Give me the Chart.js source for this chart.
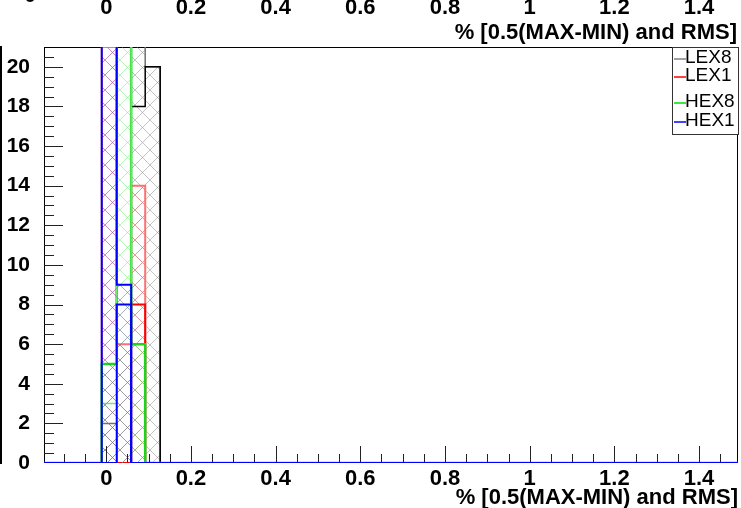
<!DOCTYPE html>
<html>
<head>
<meta charset="utf-8">
<script src="https://cdn.jsdelivr.net/npm/chart.js@4"></script>
<style>
  html,body{margin:0;padding:0;background:#fff;}
  #wrap{width:741px;height:508px;position:relative;}
</style>
</head>
<body>
<div id="wrap"><canvas id="histo"></canvas></div>
<script>
// Data
const axisTitle='% [0.5(MAX-MIN) and RMS]';
const xRange=[-0.147,1.492];
const yRange=[0,21];
const xTicks=[0,0.2,0.4,0.6,0.8,1,1.2,1.4];
const xTickLabels=['0','0.2','0.4','0.6','0.8','1','1.2','1.4'];
const yTicks=[0,2,4,6,8,10,12,14,16,18,20];
const yTickLabels=['0','2','4','6','8','10','12','14','16','18','20'];
const binEdges=[-0.0106,0.0248,0.0589,0.0920,0.1274];
const seriesNames=['LEX8','LEX1','HEX8','HEX1'];

// per channel: spread (hatched) and rms (line); bins above 21 run off the frame
const lex8Spread=[2,0,24,20];
const lex8Rms=[0,0,18,20];
const lex1Spread=[21,6,14,0];
const lex1Rms=[0,0,8,0];
const hex8Spread=[5,24,6,0];
const hex8Rms=[3,24,0,0];
const hex1Spread=[24,9,0,0];
const hex1Rms=[0,8,0,0];

const FONT='"Liberation Sans", Arial, sans-serif';
const canvas=document.getElementById('histo');
const ctx=canvas.getContext('2d');

function hatch(color){
  const c=document.createElement('canvas');
  c.width=15; c.height=15;
  const g=c.getContext('2d');
  g.strokeStyle=color; g.lineWidth=0.8;
  g.beginPath();
  g.moveTo(0,0); g.lineTo(15,15);
  g.moveTo(15,0); g.lineTo(0,15);
  g.stroke();
  return ctx.createPattern(c,'repeat');
}

function histPoints(vals){
  const pts=[{x:xRange[0],y:0}];
  vals.forEach((v,i)=>pts.push({x:binEdges[i],y:v}));
  pts.push({x:binEdges[binEdges.length-1],y:0});
  pts.push({x:xRange[1],y:0});
  return pts;
}

function hist(vals,line,width,fillPat){
  return {
    data:histPoints(vals),
    borderColor:line,
    borderWidth:width,
    backgroundColor:fillPat||'transparent',
    fill:fillPat?'origin':false,
    stepped:true,
    pointRadius:0,
    tension:0
  };
}

// first dataset is drawn on top
const datasets=[
  hist(hex1Rms,'#0000ff',2),
  hist(hex1Spread,'#0000ff',2,hatch('rgba(120,60,210,0.45)')),
  hist(hex8Rms,'#66ee66',1.5),
  hist(hex8Spread,'#1ed21e',2.5,hatch('rgba(70,235,70,0.5)')),
  hist(lex1Rms,'#ff0000',2),
  hist(lex1Spread,'#ff7070',2,hatch('rgba(255,110,110,0.6)')),
  hist(lex8Rms,'#000000',1.5),
  hist(lex8Spread,'#707070',1.5,hatch('rgba(120,120,120,0.55)'))
];

const legendColors=['#808080','#ff0000','#00dd00','#0000ff'];
const legendY=[58,76,102,121];

const decor={
  id:'decor',
  beforeDatasetsDraw(chart){
    const c=chart.ctx, a=chart.chartArea;
    c.save();
    c.strokeStyle='#000'; c.lineWidth=1;
    c.strokeRect(a.left+0.5,a.top+0.5,a.right-a.left-1,a.bottom-a.top-1);
    c.restore();
  },
  afterDatasetsDraw(chart){
    const c=chart.ctx, a=chart.chartArea;
    const xs=chart.scales.x, ys=chart.scales.y;
    c.save();
    // ticks inside the frame
    c.strokeStyle='#222'; c.lineWidth=1;
    c.beginPath();
    for(let v=-0.1;v<=xRange[1];v+=0.05){
      const px=Math.round(xs.getPixelForValue(v))+0.5;
      const major=Math.abs(v/0.2-Math.round(v/0.2))<1e-6;
      c.moveTo(px,a.bottom-1); c.lineTo(px,a.bottom-(major?17:9));
    }
    for(let v=0.5;v<yRange[1];v+=0.5){
      const py=Math.round(ys.getPixelForValue(v))+0.5;
      const major=Math.abs(v%2)<1e-6;
      c.moveTo(a.left,py); c.lineTo(a.left+(major?19:10),py);
    }
    c.stroke();
    // legend
    c.fillStyle='#fff';
    c.fillRect(672,47,66,87);
    c.strokeStyle='#333';
    c.strokeRect(672.5,47.5,66,87);
    c.font='19px '+FONT;
    c.textBaseline='middle'; c.textAlign='left';
    seriesNames.forEach((n,i)=>{
      c.strokeStyle=legendColors[i]; c.lineWidth=1.5;
      c.beginPath(); c.moveTo(674,legendY[i]+1); c.lineTo(686,legendY[i]+1); c.stroke();
      c.fillStyle='#000';
      c.fillText(n,685,legendY[i]);
    });
    // cut-off panel above
    c.fillStyle='#000';
    c.font='bold 22px '+FONT;
    c.textAlign='center';
    xTicks.forEach((v,i)=>c.fillText(xTickLabels[i],xs.getPixelForValue(v),8));
    c.fillText('0',30,-4);
    c.textAlign='right';
    c.fillText(axisTitle,737,33);
    c.fillRect(0,46,2,418);
    c.restore();
  }
};

new Chart(ctx,{
  type:'line',
  data:{datasets:datasets},
  options:{
    responsive:true,
    maintainAspectRatio:false,
    animation:false,
    layout:{padding:{top:47,right:3,left:0,bottom:0}},
    plugins:{legend:{display:false},tooltip:{enabled:false}},
    scales:{
      x:{
        type:'linear',min:xRange[0],max:xRange[1],
        grid:{display:false,drawTicks:false},border:{display:false},
        afterBuildTicks:s=>{s.ticks=xTicks.map(v=>({value:v}));},
        afterFit:s=>{s.height=45;},
        ticks:{
          color:'#000',padding:3,maxRotation:0,autoSkip:false,
          font:{family:FONT,size:22,weight:'bold'},
          callback:(v)=>xTickLabels[xTicks.indexOf(v)]
        },
        title:{display:true,text:axisTitle,align:'end',color:'#000',padding:{top:0,bottom:-3},
          font:{family:FONT,size:22,weight:'bold'}}
      },
      y:{
        min:yRange[0],max:yRange[1],
        grid:{display:false},border:{display:false},
        afterBuildTicks:s=>{s.ticks=yTicks.map(v=>({value:v}));},
        afterFit:s=>{s.width=44;},
        ticks:{
          color:'#000',padding:6,autoSkip:false,
          font:{family:FONT,size:21,weight:'bold'},
          callback:(v)=>yTickLabels[yTicks.indexOf(v)]
        }
      }
    }
  },
  plugins:[decor]
});
</script>
</body>
</html>
